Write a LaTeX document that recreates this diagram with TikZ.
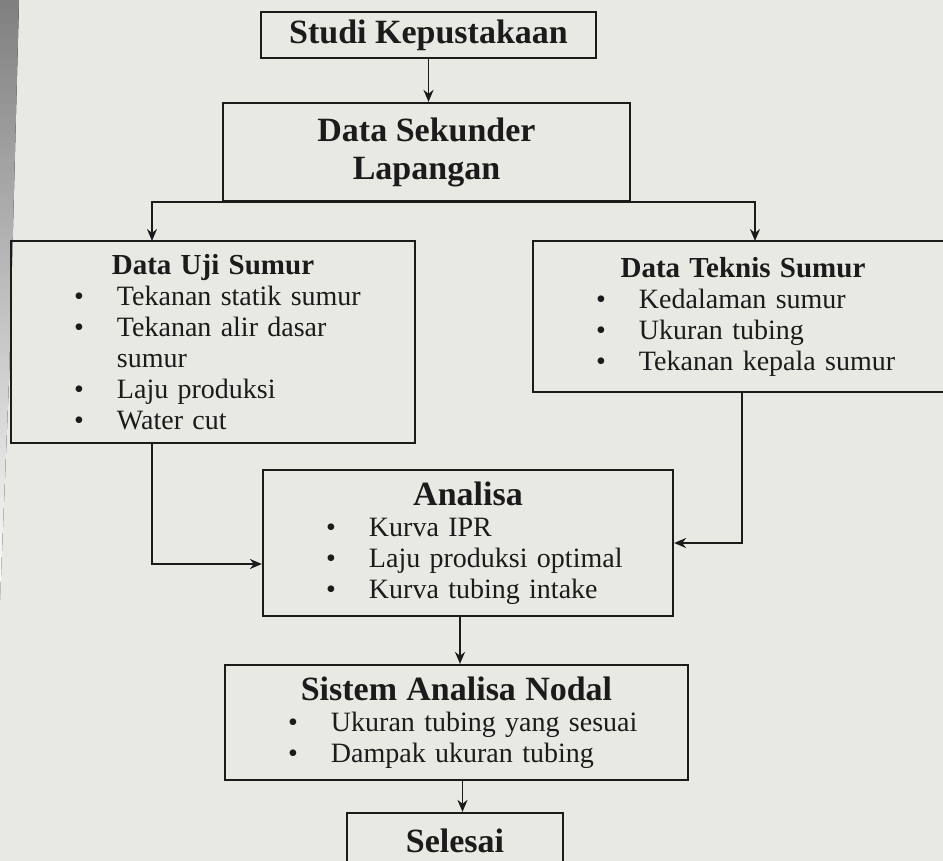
\documentclass[tikz,border=0pt]{standalone}
\usepackage{fontspec}
\setmainfont{Liberation Serif}
\usetikzlibrary{arrows.meta}

\definecolor{paper}{RGB}{233,233,228}
\definecolor{shade}{RGB}{212,212,207}
\definecolor{ink}{RGB}{28,26,26}

% box headings and bullet lines
\newcommand{\boxhead}[1]{{\centering\bfseries\fontsize{29}{31}\selectfont #1\par}}
\newcommand{\bighead}[1]{{\centering\bfseries\fontsize{34}{34}\selectfont #1\par}}
\newcommand{\itm}[1]{{\raggedright\leftskip=106pt\noindent\llap{\textbullet\hspace{33pt}}#1\par}}

\tikzset{
  head/.style={draw=ink, line width=2.2pt, inner sep=0pt, align=center,
    text=ink, font=\bfseries\fontsize{34}{38}\selectfont},
  listbox/.style={draw=ink, line width=2.2pt, inner xsep=0pt, inner ysep=0pt,
    text=ink, font=\fontsize{28}{31}\selectfont},
  arr/.style={draw=ink, line width=1.9pt, -{Stealth[length=12pt,width=10pt]}}
}

\begin{document}
\begin{tikzpicture}[x=1pt,y=-1pt]
	\useasboundingbox (0,0) rectangle (943,861);
	\clip (0,0) rectangle (943,861);
	\fill[paper] (0,0) rectangle (943,861);
	\fill[shade] (0,0) -- (19,0) -- (9,380) -- (0,600) -- cycle;

	\node[head, minimum width=335, minimum height=46] (studi) at (428.5,35) {Studi Kepustakaan};
	\node[head, minimum width=407, minimum height=98] (sek) at (426.5,152) {Data Sekunder\\Lapangan};

	\node[listbox, text width=404, minimum height=202] (uji) at (213,342) {%
		\boxhead{Data Uji Sumur}
		\itm{Tekanan statik sumur}
		\itm{Tekanan alir dasar\newline sumur}
		\itm{Laju produksi}
		\itm{Water cut}};
	\node[listbox, text width=420, minimum height=151] (teknis) at (743,316.5) {%
		\boxhead{Data Teknis Sumur}
		\itm{Kedalaman sumur}
		\itm{Ukuran tubing}
		\itm{Tekanan kepala sumur}};

	\node[listbox, text width=410, minimum height=146] (ana) at (468,543) {%
		\bighead{Analisa}
		\itm{Kurva IPR}
		\itm{Laju produksi optimal}
		\itm{Kurva tubing intake}};
	\node[listbox, text width=463, minimum height=115] (sis) at (456.5,722.5) {%
		\bighead{Sistem Analisa Nodal}
		\itm{Ukuran tubing yang sesuai}
		\itm{Dampak ukuran tubing}};
	\node[head, minimum width=216, minimum height=56] (sel) at (455,841) {Selesai};

	\coordinate (ujiin) at (152,241);
	\coordinate (tekin) at (755,241);
	\coordinate (ujiout) at (152,443);
	\coordinate (tekout) at (742,392);

	\draw[arr] (studi.south) -- (studi.south |- sek.north);
	\draw[arr] (sek.south) -| (ujiin);
	\draw[arr] (sek.south) -| (tekin);
	\draw[arr] (ujiout) |- ([yshift=-21pt]ana.west);
	\draw[arr] (tekout) |- (ana.east);
	\draw[arr] ([xshift=-8pt]ana.south) -- ([xshift=-8pt]ana.south |- sis.north);
	\draw[arr] ([xshift=6pt]sis.south) -- ([xshift=6pt]sis.south |- sel.north);
\end{tikzpicture}
\end{document}
